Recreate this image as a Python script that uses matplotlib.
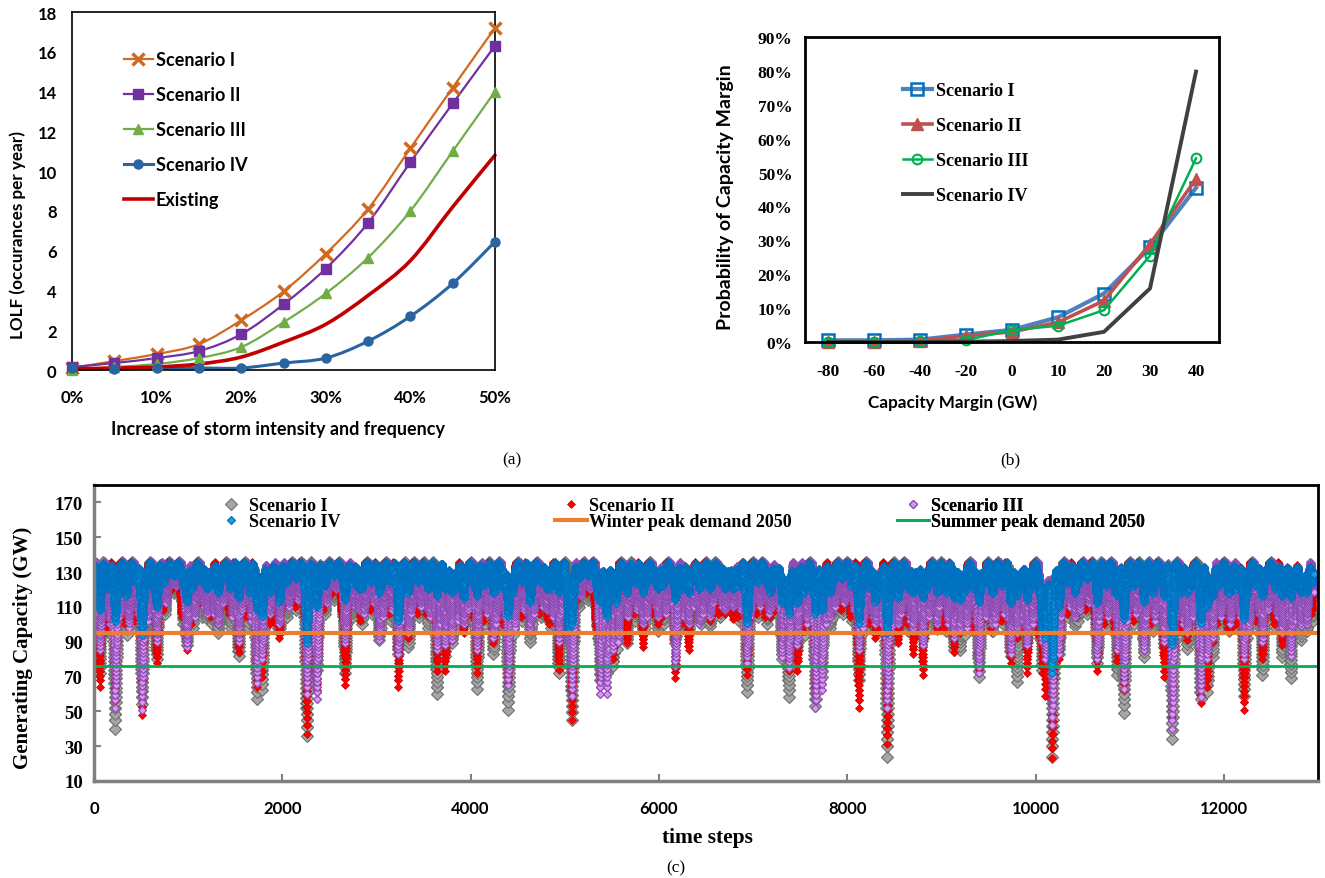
import numpy as np
import matplotlib
matplotlib.use("Agg")
import matplotlib.pyplot as plt
from matplotlib.lines import Line2D
from matplotlib.path import Path
from matplotlib.patches import PathPatch

SANS = ["Lato", "DejaVu Sans"]
SERIF = ["Liberation Serif", "DejaVu Serif"]

# ---------------- (a) LOLF vs storm increase ----------------
storm_pct = [0, 5, 10, 15, 20, 25, 30, 35, 40, 45, 50]
lolf_s1 = [0.10, 0.45, 0.80, 1.30, 2.50, 3.95, 5.85, 8.10, 11.15, 14.20, 17.20]
lolf_s2 = [0.15, 0.35, 0.60, 0.95, 1.80, 3.30, 5.10, 7.40, 10.45, 13.40, 16.30]
lolf_s3 = [0.00, 0.15, 0.30, 0.60, 1.15, 2.40, 3.85, 5.65, 8.00, 11.00, 14.00]
lolf_s4 = [0.10, 0.05, 0.10, 0.10, 0.10, 0.35, 0.60, 1.45, 2.70, 4.35, 6.45]
lolf_existing = [0.05, 0.10, 0.15, 0.30, 0.65, 1.40, 2.30, 3.75, 5.50, 8.20, 10.80]

# ---------------- (b) capacity margin distribution ----------------
margin_labels = ["-80", "-60", "-40", "-20", "0", "10", "20", "30", "40"]
prob_s1 = [0.005, 0.005, 0.007, 0.022, 0.036, 0.073, 0.143, 0.279, 0.455]
prob_s2 = [0.000, 0.000, 0.003, 0.018, 0.030, 0.058, 0.122, 0.289, 0.481]
prob_s3 = [0.001, 0.001, 0.002, 0.006, 0.035, 0.048, 0.094, 0.255, 0.542]
prob_s4 = [0.000, 0.000, 0.000, 0.001, 0.003, 0.007, 0.030, 0.158, 0.798]

# ---------------- (c) generating capacity time series ----------------
# deep storm dips: time step and lowest capacity (GW)
dip_t = [60, 225, 510, 665, 985, 1200, 1320, 1535, 1730, 1785, 1870, 1970,
         2260, 2365, 2455, 2667, 2810, 3030, 3232, 3340, 3550, 3642, 3730, 3800,
         3925, 4067, 4243, 4400, 4633, 4810, 4935, 5040, 5076, 5377, 5445, 5515,
         5660, 5830, 5990, 6175, 6315, 6430, 6546, 6705, 6790, 6936, 7185, 7308,
         7379, 7470, 7662, 7730, 7820, 8123, 8300, 8424, 8540, 8700, 8802, 8955,
         9132, 9200, 9398, 9540, 9735, 9800, 9910, 10071, 10105, 10178, 10250, 10420,
         10655, 10870, 10939, 11151, 11364, 11452, 11612, 11753, 11825, 11880, 12070, 12214,
         12410, 12620, 12710, 12815, 12880]
dip_s1 = [72, 40, 54, 80, 88, 103, 95, 82, 57, 62, 104, 96,
          36, 74, 113, 72, 109, 91, 83, 87, 108, 60, 82, 89,
          100, 63, 83, 51, 90, 103, 72, 92, 45, 68, 72, 76,
          89, 95, 96, 89, 95, 105, 99, 108, 108, 61, 105, 80,
          58, 85, 53, 70, 98, 68, 96, 24, 96, 94, 92, 98,
          85, 85, 70, 96, 82, 67, 90, 74, 85, 24, 83, 99,
          78, 71, 49, 81, 87, 34, 86, 57, 61, 81, 100, 59,
          71, 81, 69, 91, 96]
dip_s2 = [64, 56, 48, 78, 85, 108, 100, 84, 64, 70, 100, 92,
          37, 62, 112, 65, 110, 95, 64, 92, 105, 73, 73, 94,
          95, 72, 89, 66, 100, 103, 74, 94, 45, 68, 78, 80,
          89, 87, 100, 69, 85, 104, 102, 106, 103, 71, 104, 81,
          73, 73, 60, 78, 104, 52, 92, 31, 89, 83, 71, 96,
          84, 95, 74, 100, 78, 92, 72, 72, 59, 23, 80, 104,
          73, 79, 62, 88, 70, 47, 91, 55, 64, 90, 96, 51,
          80, 88, 88, 100, 102]
dip_s3 = [85, 52, 51, 90, 87, 106, 100, 90, 66, 80, 106, 100,
          60, 57, 115, 89, 108, 91, 83, 95, 108, 85, 88, 91,
          100, 85, 92, 65, 96, 108, 90, 88, 59, 60, 60, 85,
          105, 100, 104, 76, 100, 100, 104, 108, 110, 78, 108, 81,
          75, 88, 52, 62, 104, 85, 100, 52, 100, 96, 88, 100,
          92, 96, 72, 100, 83, 95, 88, 90, 80, 42, 83, 104,
          80, 85, 63, 85, 90, 40, 95, 58, 80, 92, 102, 80,
          90, 95, 82, 99, 100]
dip_s4 = [108, 102, 94, 110, 113, 120, 118, 115, 108, 105, 118, 113,
          89, 110, 122, 114, 120, 118, 102, 118, 120, 116, 120, 118,
          115, 116, 118, 105, 113, 120, 118, 96, 100, 113, 104, 115,
          118, 118, 120, 114, 118, 120, 120, 120, 120, 101, 118, 112,
          106, 112, 106, 108, 118, 101, 113, 95, 115, 118, 115, 118,
          115, 114, 113, 118, 112, 116, 114, 96, 92, 72, 110, 118,
          112, 116, 103, 113, 116, 88, 118, 101, 110, 116, 118, 103,
          116, 116, 115, 118, 118]

# lowest capacity in each 100-step block (shallow fluctuations of the dense band)
band_s1 = [92, 96, 98, 94, 100, 96, 96, 106, 118, 100,
           98, 104, 100, 106, 98, 102, 98, 100, 104, 98,
           104, 108, 96, 98, 106, 114, 102, 104, 100, 106,
           98, 102, 98, 100, 104, 98, 94, 100, 96, 102,
           96, 100, 96, 98, 94, 102, 100, 104, 98, 102,
           106, 110, 114, 92, 80, 86, 98, 102, 98, 104,
           100, 102, 98, 104, 100, 106, 104, 108, 102, 100,
           104, 100, 106, 92, 90, 94, 90, 96, 104, 106,
           102, 94, 98, 96, 92, 100, 96, 102, 98, 104,
           96, 98, 94, 96, 98, 96, 100, 94, 96, 96,
           92, 90, 98, 104, 102, 106, 98, 98, 96, 98,
           100, 98, 96, 100, 92, 94, 98, 92, 94, 98,
           96, 98, 92, 100, 102, 98, 104, 98, 100, 102]
band_s2 = [98, 96, 106, 100, 102, 100, 104, 108, 120, 104,
           100, 112, 104, 108, 106, 104, 104, 108, 106, 100,
           112, 110, 104, 100, 108, 118, 104, 112, 102, 108,
           100, 106, 104, 102, 106, 106, 98, 102, 104, 104,
           104, 102, 98, 100, 102, 104, 108, 106, 100, 104,
           108, 114, 118, 96, 84, 88, 100, 106, 100, 106,
           104, 106, 100, 108, 104, 110, 106, 112, 104, 106,
           106, 104, 108, 96, 98, 96, 98, 102, 106, 108,
           104, 100, 100, 98, 98, 102, 100, 104, 102, 106,
           98, 100, 100, 98, 102, 98, 102, 100, 98, 98,
           94, 96, 100, 106, 104, 108, 100, 100, 98, 100,
           102, 102, 100, 102, 98, 96, 100, 98, 96, 100,
           98, 100, 98, 102, 104, 100, 106, 100, 104, 106]
band_s3 = [96, 100, 104, 98, 106, 102, 100, 112, 122, 108,
           104, 110, 106, 112, 104, 108, 102, 106, 110, 104,
           110, 114, 100, 104, 112, 120, 108, 110, 106, 112,
           104, 108, 102, 106, 110, 104, 100, 106, 102, 108,
           102, 106, 100, 104, 98, 108, 106, 110, 104, 108,
           112, 116, 120, 98, 86, 90, 104, 108, 104, 110,
           106, 108, 104, 110, 106, 112, 110, 114, 108, 104,
           110, 106, 112, 98, 96, 100, 94, 100, 110, 112,
           108, 98, 104, 100, 96, 106, 102, 108, 104, 110,
           100, 104, 98, 102, 104, 100, 106, 98, 102, 100,
           96, 94, 104, 110, 108, 112, 102, 104, 100, 102,
           106, 104, 102, 106, 96, 100, 104, 96, 98, 104,
           100, 104, 96, 106, 108, 104, 110, 102, 106, 108]
band_s4 = [118, 120, 122, 116, 124, 120, 118, 124, 128, 122,
           120, 124, 122, 126, 120, 124, 118, 122, 124, 120,
           124, 126, 118, 122, 124, 128, 122, 124, 120, 124,
           120, 124, 120, 122, 124, 120, 118, 122, 120, 124,
           120, 122, 118, 120, 118, 124, 122, 124, 120, 124,
           124, 126, 128, 116, 108, 112, 120, 124, 120, 124,
           122, 124, 120, 124, 122, 126, 124, 126, 122, 120,
           124, 122, 124, 118, 116, 118, 116, 120, 124, 126,
           122, 118, 120, 118, 116, 122, 120, 124, 120, 124,
           118, 120, 118, 120, 122, 118, 122, 118, 120, 120,
           116, 114, 120, 124, 122, 126, 120, 122, 118, 120,
           122, 120, 118, 122, 116, 118, 120, 116, 118, 122,
           118, 120, 116, 122, 124, 120, 124, 120, 122, 124]
block_len = 100
cap_max = 135.5
n_steps = 12960
winter_peak = 94.8
summer_peak = 76.3

t_steps = np.arange(n_steps)


def capacity_series(depths, band, phase, dip_hw=40, band_hw=50, dip_pow=0.8, band_pow=0.65):
    # each low point is a cusp: fast fall, fast recovery, long time near the top
    v = np.full(n_steps, cap_max)
    for tc, d in zip(dip_t, depths):
        r = np.minimum(np.abs(t_steps - tc) / dip_hw, 1.0)
        v = np.minimum(v, d + (cap_max - d) * r ** dip_pow)
    for k, d in enumerate(band):
        r = np.minimum(np.abs(t_steps - (k * block_len + phase)) / band_hw, 1.0)
        v = np.minimum(v, d + (cap_max - d) * r ** band_pow)
    return v


def smooth_path(x, y):
    # Excel-style smoothed line: cubic Bezier segments through every point
    p = np.column_stack([x, y]).astype(float)
    n = len(p)
    verts, codes = [p[0]], [Path.MOVETO]
    for i in range(n - 1):
        p0, p1, p2, p3 = p[max(i - 1, 0)], p[i], p[i + 1], p[min(i + 2, n - 1)]
        verts += [p1 + (p2 - p0) / 6, p2 - (p3 - p1) / 6, p2]
        codes += [Path.CURVE4] * 3
    return Path(verts, codes)


fig = plt.figure(figsize=(13.25, 8.79), dpi=100)
W, H = 1325, 879


def box(l, t, r, b):
    return [l / W, 1 - b / H, (r - l) / W, (b - t) / H]


# ---- panel (a)
ax = fig.add_axes(box(72, 13, 495, 371))
series_a = [
    (lolf_s1, "Scenario I", "#d2691e", 1.6, dict(marker="x", ms=8, mew=2.5)),
    (lolf_s2, "Scenario II", "#7030a0", 1.6, dict(marker="s", ms=6.5)),
    (lolf_s3, "Scenario III", "#70ad47", 1.6, dict(marker="^", ms=7.5)),
    (lolf_s4, "Scenario IV", "#2a64a0", 2.2, dict(marker="o", ms=6.5)),
    (lolf_existing, "Existing", "#c00000", 2.6, dict(marker="none")),
]
handles_a = []
for vals, name, col, lw, mk in series_a:
    ax.add_patch(PathPatch(smooth_path(storm_pct, vals), fill=False, edgecolor=col, lw=lw,
                           capstyle="round", joinstyle="round", clip_on=False))
    if mk["marker"] != "none":
        ax.plot(storm_pct, vals, ls="none", color=col, clip_on=False, zorder=3, **mk)
    handles_a.append(Line2D([], [], color=col, lw=lw, **mk))
ax.set_xlim(0, 50)
ax.set_ylim(0, 18)
ax.set_xticks(storm_pct[::2])
ax.set_xticklabels([f"{p}%" for p in storm_pct[::2]])
ax.set_yticks(range(0, 19, 2))
ax.tick_params(axis="y", length=0, pad=11, labelsize=12)
ax.tick_params(axis="x", length=0, pad=14, labelsize=12)
for lab in ax.get_xticklabels() + ax.get_yticklabels():
    lab.set_family(SANS)
    lab.set_weight("bold")
for s in ax.spines.values():
    s.set_linewidth(1.2)
ax.legend(handles_a, [s[1] for s in series_a], loc="upper left", bbox_to_anchor=(124 / W, 1 - 52 / H),
          bbox_transform=fig.transFigure, frameon=False, borderpad=0, borderaxespad=0,
          handlelength=1.6, handletextpad=0.15, labelspacing=1.0,
          prop={"family": SANS, "weight": "bold", "size": 13})
fig.text(278 / W, 1 - 430 / H, "Increase of storm intensity and frequency", ha="center", va="center",
         family=SANS, weight="bold", size=13)
fig.text(18 / W, 1 - 235 / H, "LOLF (occurances per year)", ha="center", va="center", rotation=90,
         family=SANS, weight="bold", size=12.3)
fig.text(512 / W, 1 - 460 / H, "(a)", ha="center", va="center", family=SERIF, size=12.5)

# ---- panel (b)
ax = fig.add_axes(box(805, 38, 1219, 343))
xb = np.arange(len(margin_labels))
ax.plot(xb, prob_s1, color="#4f81bd", lw=3, marker="s", ms=8.5, mfc="none", mec="#0070c0", mew=1.8,
        label="Scenario I", clip_on=False)
ax.plot(xb, prob_s2, color="#c0504d", lw=2.6, marker="^", ms=8, label="Scenario II", clip_on=False)
ax.plot(xb, prob_s3, color="#00b050", lw=1.8, marker="o", ms=7, mfc="none", mew=1.5,
        label="Scenario III", clip_on=False)
ax.plot(xb, prob_s4, color="#404040", lw=2.8, label="Scenario IV", clip_on=False)
ax.set_xlim(-0.5, len(margin_labels) - 0.5)
ax.set_ylim(0, 0.9)
ax.set_xticks(xb)
ax.set_xticklabels(margin_labels)
ax.set_yticks(np.arange(0, 0.91, 0.1))
ax.set_yticklabels([f"{int(round(v * 100))}%" for v in np.arange(0, 0.91, 0.1)])
ax.tick_params(axis="y", length=0, pad=9, labelsize=12.5)
ax.tick_params(axis="x", length=0, pad=15, labelsize=12.5)
for lab in ax.get_xticklabels() + ax.get_yticklabels():
    lab.set_family(SERIF)
    lab.set_weight("bold")
for s in ax.spines.values():
    s.set_linewidth(2)
ax.legend(loc="upper left", bbox_to_anchor=(903 / W, 1 - 83 / H), bbox_transform=fig.transFigure,
          frameon=False, borderpad=0, borderaxespad=0, handlelength=1.6, handletextpad=0.2,
          labelspacing=1.0, prop={"family": SERIF, "weight": "bold", "size": 13})
fig.text(953 / W, 1 - 403 / H, "Capacity Margin (GW)", ha="center", va="center",
         family=SANS, weight="bold", size=12.3)
fig.text(725 / W, 1 - 197 / H, "Probability of Capacity Margin", ha="center", va="center", rotation=90,
         family=SANS, weight="bold", size=14)
fig.text(1010 / W, 1 - 460 / H, "(b)", ha="center", va="center", family=SERIF, size=12.5)

# ---- panel (c)
ax = fig.add_axes(box(94, 486, 1318, 782))
styles = [
    (dip_s1, band_s1, 50, dict(marker="D", ms=6.5, mfc="#a6a6a6", mec="#6f6f6f", mew=0.8), "Scenario I"),
    (dip_s2, band_s2, 30, dict(marker="D", ms=3.8, mfc="#ff0000", mec="#d00000", mew=0.5), "Scenario II"),
    (dip_s3, band_s3, 70, dict(marker="D", ms=4.0, mfc="#dc98f0", mec="#8c4cb4", mew=0.9), "Scenario III"),
    (dip_s4, band_s4, 45, dict(marker="D", ms=4.0, mfc="#18a0e6", mec="#0070c0", mew=0.9), "Scenario IV"),
]
handles = {}
for depths, band, phase, st, name in styles:
    ax.plot(t_steps, capacity_series(depths, band, phase), ls="none", **st)
    handles[name] = Line2D([], [], ls="none", **st)
ax.axhline(winter_peak, color="#ed7d31", lw=3)
ax.axhline(summer_peak, color="#00b050", lw=2)
handles["Winter peak demand 2050"] = Line2D([], [], color="#ed7d31", lw=3)
handles["Summer peak demand 2050"] = Line2D([], [], color="#00b050", lw=2)
ax.set_xlim(0, 13000)
ax.set_ylim(10, 180)
ax.set_xticks(range(0, 12001, 2000))
ax.set_yticks(range(10, 171, 20))
ax.tick_params(direction="in", length=5, width=1.5, color="#808080")
ax.tick_params(axis="x", pad=14, labelsize=12)
ax.tick_params(axis="y", pad=8, labelsize=13.5)
for lab in ax.get_xticklabels():
    lab.set_family(SANS)
    lab.set_weight("bold")
for lab in ax.get_yticklabels():
    lab.set_family(SERIF)
    lab.set_weight("bold")
ax.spines["left"].set_color("#808080")
ax.spines["bottom"].set_color("#808080")
ax.spines["left"].set_linewidth(2.5)
ax.spines["bottom"].set_linewidth(2.5)
ax.spines["top"].set_linewidth(2)
ax.spines["right"].set_linewidth(2)

legend_cols = [(215, ["Scenario I", "Scenario IV"]),
               (555, ["Scenario II", "Winter peak demand 2050"]),
               (897, ["Scenario III", "Summer peak demand 2050"])]
for x0, names in legend_cols:
    lg = ax.legend([handles[n] for n in names], names, loc="upper left",
                   bbox_to_anchor=(x0 / W, 1 - 498 / H), bbox_transform=fig.transFigure,
                   frameon=False, borderpad=0, borderaxespad=0, handlelength=1.75, handletextpad=0.15,
                   labelspacing=-0.05, prop={"family": SERIF, "weight": "bold", "size": 13})
    ax.add_artist(lg)

fig.text(23 / W, 1 - 648 / H, "Generating Capacity (GW)", ha="center", va="center", rotation=90,
         family=SERIF, weight="bold", size=15)
fig.text(707 / W, 1 - 838 / H, "time steps", ha="center", va="center", family=SERIF, weight="bold", size=15.5)
fig.text(676 / W, 1 - 868 / H, "(c)", ha="center", va="center", family=SERIF, size=12.5)

fig.savefig("out.png", dpi=100)
